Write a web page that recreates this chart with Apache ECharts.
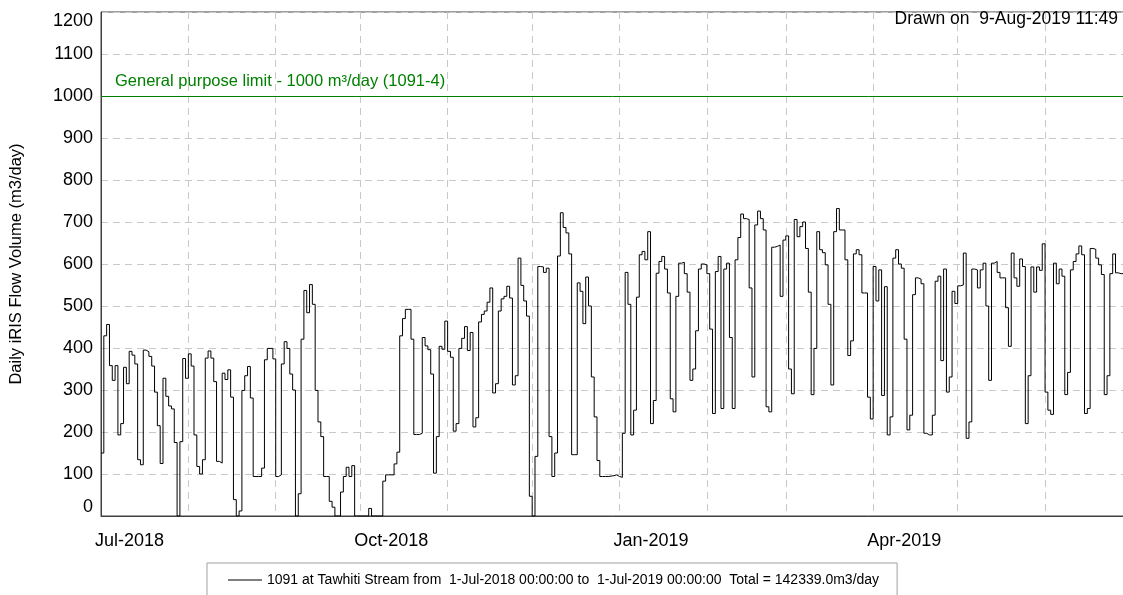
<!DOCTYPE html>
<html>
<head>
<meta charset="utf-8">
<title>Daily iRIS Flow Volume</title>
<script src="https://cdn.jsdelivr.net/npm/echarts@6/dist/echarts.min.js"></script>
<style>
  html, body { margin: 0; padding: 0; background: #fff; }
  #chart { width: 1123px; height: 595px; }
</style>
</head>
<body>
<div id="chart"></div>
<script>
// daily volumes (m3/day), one array per month
const flowJul2018 = [150, 429, 456, 358, 323, 358, 193, 220, 354, 315, 392, 383, 362, 134, 122, 395, 391, 380, 357, 295, 215, 125, 328, 285, 262, 255, 175, 0, 177, 375, 328]
const flowAug2018 = [386, 357, 193, 118, 100, 134, 376, 393, 376, 320, 130, 126, 340, 325, 348, 283, 39, 0, 12, 299, 334, 356, 281, 94, 94, 94, 114, 372, 399, 399, 374]
const flowSep2018 = [94, 98, 362, 415, 399, 338, 300, 0, 53, 421, 537, 484, 551, 504, 299, 224, 189, 94, 94, 35, 21, 0, 0, 57, 94, 116, 94, 120, 0, 0]
const flowOct2018 = [0, 0, 0, 18, 0, 0, 0, 0, 83, 98, 98, 98, 124, 152, 429, 470, 492, 492, 421, 194, 194, 197, 425, 405, 396, 338, 102, 189, 404, 397, 464]
const flowNov2018 = [392, 378, 202, 220, 399, 423, 451, 394, 437, 212, 234, 462, 480, 488, 509, 543, 293, 315, 488, 517, 523, 547, 519, 312, 334, 614, 549, 512, 476, 47]
const flowDec2018 = [0, 142, 594, 593, 580, 590, 189, 94, 150, 619, 722, 687, 674, 624, 146, 146, 555, 535, 458, 569, 500, 331, 236, 132, 94, 94, 94, 95, 96, 98, 94]
const flowJan2019 = [92, 197, 580, 504, 193, 252, 521, 622, 630, 610, 677, 220, 275, 578, 606, 618, 588, 531, 279, 248, 523, 602, 604, 577, 533, 323, 350, 441, 588, 600, 598]
const flowFeb2019 = [577, 445, 244, 582, 618, 256, 588, 602, 425, 256, 610, 663, 719, 708, 706, 543, 331, 693, 726, 708, 681, 260, 248, 640, 642, 645, 523, 657]
const flowMar2019 = [667, 350, 291, 706, 665, 689, 700, 637, 533, 289, 399, 677, 634, 627, 598, 504, 312, 677, 732, 681, 681, 610, 382, 417, 624, 634, 622, 531, 531, 283, 231]
const flowApr2019 = [594, 512, 586, 287, 546, 193, 236, 614, 634, 600, 590, 421, 205, 240, 527, 567, 564, 553, 197, 193, 193, 240, 559, 571, 370, 588, 295, 331, 535, 506]
const flowMay2019 = [548, 550, 626, 185, 224, 588, 586, 543, 586, 602, 500, 323, 602, 606, 580, 567, 567, 496, 404, 626, 567, 547, 612, 594, 220, 334, 593, 533, 593, 585, 648]
const flowJun2019 = [295, 252, 242, 602, 553, 588, 571, 289, 342, 586, 606, 624, 643, 622, 244, 256, 637, 635, 614, 598, 575, 289, 334, 577, 624, 579, 577, 577, 415, 415]

const monthNames = ['Jan', 'Feb', 'Mar', 'Apr', 'May', 'Jun', 'Jul', 'Aug', 'Sep', 'Oct', 'Nov', 'Dec']
const labelMonths = [0, 3, 6, 9]
const limitValue = 1000
const limitLabel = 'General purpose limit - 1000 m³/day (1091-4)'
const seriesName = '1091 at Tawhiti Stream from  1-Jul-2018 00:00:00 to  1-Jul-2019 00:00:00  Total = 142339.0m3/day'
const drawnOn = 'Drawn on  9-Aug-2019 11:49'
const yAxisName = 'Daily iRIS Flow Volume (m3/day)'

const flowValues = [].concat(flowJul2018, flowAug2018, flowSep2018, flowOct2018, flowNov2018, flowDec2018,
  flowJan2019, flowFeb2019, flowMar2019, flowApr2019, flowMay2019, flowJun2019)

const startTime = new Date(2018, 6, 1).getTime()
const endTime = new Date(2019, 6, 1).getTime()
const DAY = 24 * 3600 * 1000

// each day's value held until the next day
const points = flowValues.map((v, i) => [new Date(2018, 6, 1 + i).getTime(), v])
points.push([endTime, flowValues[flowValues.length - 1]])

const chart = echarts.init(document.getElementById('chart'))
const fontFamily = 'Liberation Sans, Arial, sans-serif'
const gridColor = '#c8c8c8'
const axisColor = '#404040'

const option = {
  animation: false,
  title: {
    text: drawnOn,
    right: 5,
    top: 10,
    padding: 0,
    textStyle: { fontSize: 17.5, fontWeight: 'normal', color: '#000', fontFamily: fontFamily }
  },
  legend: {
    left: 207,
    top: 563,
    padding: [10, 18, 30, 21],
    itemWidth: 34,
    itemHeight: 1,
    icon: 'rect',
    itemStyle: { color: '#000' },
    borderColor: '#a0a0a0',
    borderWidth: 1,
    data: [seriesName],
    textStyle: { fontSize: 14, color: '#000', fontFamily: fontFamily }
  },
  grid: {
    // the plot runs on past the right edge of the picture (1-Jul-2019 is off-screen)
    left: 101,
    top: 12,
    width: 1028.6,
    height: 504,
    outerBoundsMode: 'none',
    containLabel: false,
    show: true,
    borderColor: axisColor,
    borderWidth: 1
  },
  xAxis: {
    type: 'time',
    min: startTime,
    max: endTime,
    splitNumber: 12,
    minInterval: 28 * DAY,
    maxInterval: 31 * DAY,
    axisLine: { lineStyle: { color: axisColor } },
    axisTick: { show: false },
    axisLabel: {
      fontSize: 18,
      color: '#000',
      fontFamily: fontFamily,
      align: 'left',
      padding: [0, 0, 0, -6],
      margin: 16,
      hideOverlap: false,
      formatter: function (value) {
        const d = new Date(value)
        if (value >= endTime) return ''
        return labelMonths.indexOf(d.getMonth()) >= 0 ? monthNames[d.getMonth()] + '-' + d.getFullYear() : ''
      }
    },
    splitLine: { show: true, lineStyle: { color: gridColor, type: [7, 5] } }
  },
  yAxis: {
    type: 'value',
    min: 0,
    max: 1200,
    interval: 100,
    name: yAxisName,
    nameLocation: 'middle',
    nameGap: 76,
    nameTextStyle: { fontSize: 16.5, color: '#000', fontFamily: fontFamily },
    axisLine: { show: true, lineStyle: { color: axisColor } },
    axisTick: { show: false },
    axisLabel: {
      fontSize: 18,
      color: '#000',
      fontFamily: fontFamily,
      margin: 8,
      formatter: function (v) { return String(v) },
      verticalAlignMinLabel: 'bottom',
      verticalAlignMaxLabel: 'top'
    },
    splitLine: { show: true, lineStyle: { color: gridColor, type: [7, 5] } }
  },
  series: [
    {
      name: seriesName,
      type: 'line',
      step: 'end',
      data: points,
      symbol: 'none',
      lineStyle: { color: '#000', width: 1 },
      itemStyle: { color: '#000' },
      markLine: {
        silent: true,
        symbol: 'none',
        lineStyle: { color: '#008000', type: 'solid', width: 1 },
        label: {
          position: 'insideStartTop',
          formatter: limitLabel,
          color: '#008000',
          fontSize: 16.5,
          fontFamily: fontFamily,
          distance: [14, 6]
        },
        data: [{ yAxis: limitValue }]
      }
    }
  ]
}

chart.setOption(option)
</script>
</body>
</html>
